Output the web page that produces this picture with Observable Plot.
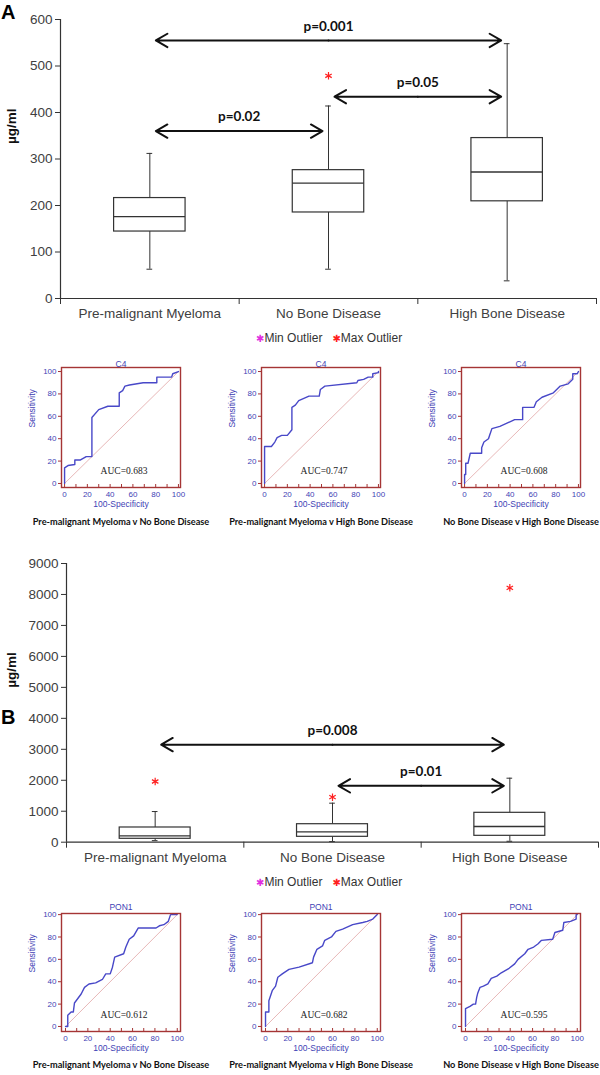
<!DOCTYPE html>
<html><head><meta charset="utf-8">
<script src="https://cdn.jsdelivr.net/npm/d3@7"></script>
<script src="https://cdn.jsdelivr.net/npm/@observablehq/plot@0.6"></script>
<style>
body{margin:0;background:#fff;}
#root{position:relative;width:600px;height:1075px;overflow:hidden;background:#fff;font-family:"Liberation Sans",Arial,sans-serif;}
.panel-label{font-weight:bold;font-size:20px;line-height:1;color:#000;}
.legend{font-size:12px;line-height:16px;color:#333;white-space:nowrap;}
.legend .sym{font-family:"DejaVu Sans",sans-serif;font-size:10px;}
</style></head>
<body><div id="root"></div>
<script>
// ---------- data ----------
const categories = ["Pre-malignant Myeloma", "No Bone Disease", "High Bone Disease"];

// Panel A: C4 (µg/ml)
const c4Low = [63, 63, 38];
const c4Q1 = [144, 185, 209];
const c4Median = [176, 248, 272];
const c4Q3 = [216, 276, 345];
const c4High = [312, 414, 548];
const c4Outliers = [{group: 1, value: 479}];
const c4Tests = [
  {from: 0, to: 2, y: 555, label: "p=0.001"},
  {from: 1, to: 2, y: 434, label: "p=0.05"},
  {from: 0, to: 1, y: 360, label: "p=0.02"}
];
const c4Ticks = [0, 100, 200, 300, 400, 500, 600];

// Panel B: PON1 (µg/ml)
const pon1Low = [50, 20, 30];
const pon1Q1 = [110, 174, 206];
const pon1Median = [206, 336, 507];
const pon1Q3 = [475, 581, 949];
const pon1High = [990, 1260, 2067];
const pon1Outliers = [{group: 0, value: 1960}, {group: 1, value: 1453}, {group: 2, value: 8214}];
const pon1Tests = [
  {from: 0, to: 2, y: 3150, label: "p=0.008"},
  {from: 1, to: 2, y: 1820, label: "p=0.01"}
];
const pon1Ticks = [0, 1000, 2000, 3000, 4000, 5000, 6000, 7000, 8000, 9000];

// ROC curves [100-Specificity, Sensitivity]
const rocC4PreVsNone = [[0,0],[0,14],[3,16],[9,17],[9,21],[14,21],[19,24],[24,24],[24,59],[30,66],[38,69],[48,69],[48,81],[51,83],[53,87],[57,88],[69,90],[81,90],[81,95],[94,95],[95,98],[100,100]];
const rocC4PreVsHigh = [[0,0],[0,33],[6,33],[9,37],[11,41],[15,43],[20,43],[24,48],[24,68],[27,70],[30,74],[39,78],[48,78],[49,84],[53,87],[81,90],[82,92],[87,93],[91,95],[95,95],[95,98],[100,99],[100,100]];
const rocC4NoneVsHigh = [[0,0],[0,8],[1,8],[1,18],[3,18],[5,27],[15,27],[15,32],[17,37],[21,40],[22,43],[24,49],[31,51],[44,57],[51,57],[51,68],[61,68],[63,73],[68,77],[78,81],[84,87],[91,89],[95,93],[95,98],[99,98],[100,100]];
const rocPon1PreVsNone = [[0,0],[2,0],[2,10],[5,13],[7,13],[8,21],[11,25],[14,29],[17,35],[21,38],[27,39],[33,42],[36,47],[40,47],[42,53],[44,62],[52,65],[54,71],[57,78],[61,81],[65,88],[81,88],[84,90],[88,91],[92,94],[94,100],[100,100]];
const rocPon1PreVsHigh = [[0,0],[0,13],[3,13],[3,23],[6,32],[9,36],[11,44],[15,47],[21,51],[30,53],[42,57],[43,62],[46,69],[51,72],[53,77],[59,80],[63,85],[69,87],[78,91],[87,93],[91,94],[96,96],[100,100]];
const rocPon1NoneVsHigh = [[0,0],[0,16],[4,18],[7,20],[9,20],[10,26],[11,30],[13,35],[16,36],[20,38],[23,43],[28,45],[32,48],[39,52],[44,56],[47,60],[53,65],[56,69],[61,71],[65,74],[68,77],[78,78],[80,84],[87,86],[88,93],[94,94],[99,96],[99,100],[100,100]];
const rocTitlesA = ["C4", "C4", "C4"];
const rocTitlesB = ["PON1", "PON1", "PON1"];
const aucA = ["AUC=0.683", "AUC=0.747", "AUC=0.608"];
const aucB = ["AUC=0.612", "AUC=0.682", "AUC=0.595"];
const comparisons = ["Pre-malignant Myeloma v No Bone Disease", "Pre-malignant Myeloma v High Bone Disease", "No Bone Disease v High Bone Disease"];
const rocTicks = [0, 20, 40, 60, 80, 100];
const rocMinorTicks = [0, 10, 20, 30, 40, 50, 60, 70, 80, 90, 100];
const chance = [[0, 0], [100, 100]];
const legendItems = [{label: "Min Outlier", color: "#e030e0"}, {label: "Max Outlier", color: "#ff2020"}];

// ---------- drawing ----------
const root = document.getElementById("root");
function place(el, left, top) {
  el.style.position = "absolute";
  el.style.left = left + "px";
  el.style.top = top + "px";
  root.appendChild(el);
}
function div(cls, html, left, top) {
  const d = document.createElement("div");
  d.className = cls;
  d.innerHTML = html;
  place(d, left, top);
}

function boxPlot(o) {
  const rows = categories.map((name, i) => ({name, c: i + 0.5, low: o.low[i], q1: o.q1[i], median: o.median[i], q3: o.q3[i], high: o.high[i]}));
  const ink = "#333", text = "#404040";
  const half = 0.2, cap = 0.016;
  const mid = d => (d.from + d.to) / 2 + 0.5;
  return Plot.plot({
    width: 600, height: o.height,
    marginLeft: o.marginLeft, marginRight: o.marginRight, marginTop: o.marginTop, marginBottom: o.marginBottom,
    style: {fontFamily: "Liberation Sans, Arial, sans-serif", background: "transparent", overflow: "visible"},
    x: {domain: [0, 3]},
    y: {domain: [0, o.ticks[o.ticks.length - 1]]},
    marks: [
      Plot.ruleX([0], {stroke: ink, strokeWidth: 1.2}),
      Plot.ruleY([0], {stroke: ink, strokeWidth: 1.2}),
      Plot.axisY({ticks: o.ticks, tickSize: 5, tickPadding: 3, tickFormat: d => String(d), fontSize: 13.5, fill: text, stroke: ink, label: null}),
      Plot.axisX({ticks: [0, 1, 2, 3], tickSize: 6, tickFormat: () => "", stroke: ink, label: null}),
      Plot.axisX({ticks: rows.map(d => d.c), tickSize: 0, tickPadding: 10, tickFormat: v => categories[Math.floor(v)], fontSize: 13.5, fill: text, label: null}),
      Plot.ruleX(rows, {x: "c", y1: "q3", y2: "high", stroke: ink}),
      Plot.ruleX(rows, {x: "c", y1: "low", y2: "q1", stroke: ink}),
      Plot.ruleY(rows, {y: "high", x1: d => d.c - cap, x2: d => d.c + cap, stroke: ink}),
      Plot.ruleY(rows, {y: "low", x1: d => d.c - cap, x2: d => d.c + cap, stroke: ink}),
      Plot.rect(rows, {x1: d => d.c - half, x2: d => d.c + half, y1: "q1", y2: "q3", fill: "white", stroke: ink, strokeWidth: 1.2}),
      Plot.ruleY(rows, {y: "median", x1: d => d.c - half, x2: d => d.c + half, stroke: ink, strokeWidth: 1.3}),
      Plot.dot(o.outliers, {x: d => d.group + 0.5, y: "value", symbol: "asterisk", stroke: "#ff2020", r: 3.5, strokeWidth: 1.2}),
      Plot.arrow(o.tests, {x1: mid, y1: "y", x2: d => d.from + 0.5, y2: "y", insetEnd: 6, headLength: 10, strokeWidth: 2, stroke: "#111"}),
      Plot.arrow(o.tests, {x1: mid, y1: "y", x2: d => d.to + 0.5, y2: "y", insetEnd: 6, headLength: 10, strokeWidth: 2, stroke: "#111"}),
      Plot.text(o.tests, {x: mid, y: "y", text: "label", dy: -14, fontWeight: "bold", fontSize: 13.5, fontFamily: "Lato, sans-serif", fill: "#111"}),
      Plot.text(["µg/ml"], {frameAnchor: "left", rotate: -90, dx: 11.5 - o.marginLeft, dy: -15, fontWeight: "bold", fontSize: 13.5, fill: "#111"})
    ]
  });
}

function rocPlot(curve, title, auc, comparison, row) {
  const blue = "#3f3fb5", red = "#a53535";
  return Plot.plot({
    width: 200, height: 180,
    marginLeft: 61, marginRight: 20, marginTop: 17, marginBottom: row.marginBottom,
    style: {fontFamily: "Liberation Sans, Arial, sans-serif", background: "transparent", overflow: "visible"},
    x: {domain: row.xDomain},
    y: {domain: row.yDomain},
    marks: [
      Plot.line(chance, {stroke: "#e8b8b8", strokeWidth: 1}),
      Plot.line(curve, {stroke: "#4848c8", strokeWidth: 1.4}),
      Plot.frame({stroke: red, strokeWidth: 1.4}),
      Plot.axisX({ticks: rocMinorTicks, tickSize: 3, dy: -3, tickFormat: () => "", stroke: red, label: null}),
      Plot.axisX({ticks: rocTicks, tickSize: 0, tickPadding: 4, fontSize: 8, fill: blue, label: null}),
      Plot.axisY({ticks: rocTicks, tickSize: 3, tickPadding: 2, fontSize: 8, fill: blue, stroke: red, label: null}),
      Plot.text([title], {frameAnchor: "top", dy: row.titleDy, fill: blue, fontSize: 8.5}),
      Plot.text(["100-Specificity"], {frameAnchor: "bottom", dy: 19, fill: blue, fontSize: 8.5}),
      Plot.text(["Sensitivity"], {frameAnchor: "left", rotate: -90, dx: -29, fill: blue, fontSize: 8.5}),
      Plot.text([auc], {frameAnchor: "bottom", dx: 3, dy: -14, fontFamily: "Liberation Serif, serif", fontSize: 9.5, fill: "#222"}),
      Plot.text([comparison], {frameAnchor: "bottom", dy: row.subDy, fontFamily: "Lato, sans-serif", fontWeight: "bold", fontSize: 9.2, fill: "#111"})
    ]
  });
}

function legend(top) {
  const html = legendItems.map(d => `<span class="sym" style="color:${d.color}">✱</span>${d.label}`).join("&nbsp;&nbsp;&nbsp;");
  div("legend", html, 256, top);
}

// Panel A
div("panel-label", "A", 1, 2);
place(boxPlot({low: c4Low, q1: c4Q1, median: c4Median, q3: c4Q3, high: c4High, outliers: c4Outliers, tests: c4Tests, ticks: c4Ticks,
  height: 330, marginLeft: 60, marginRight: 4, marginTop: 19, marginBottom: 32}), 0, 0);
legend(330);
const rowA = {marginBottom: 43, xDomain: [-2.7, 101.8], yDomain: [-3.6, 103.6], titleDy: -7, subDy: 37};
[rocC4PreVsNone, rocC4PreVsHigh, rocC4NoneVsHigh].forEach((c, i) => place(rocPlot(c, rocTitlesA[i], aucA[i], comparisons[i], rowA), i * 200, 350));

// Panel B
div("panel-label", "B", 1, 707);
place(boxPlot({low: pon1Low, q1: pon1Q1, median: pon1Median, q3: pon1Q3, high: pon1High, outliers: pon1Outliers, tests: pon1Tests, ticks: pon1Ticks,
  height: 330, marginLeft: 66, marginRight: 2, marginTop: 18, marginBottom: 33.3}), 0, 545);
legend(874);
const rowB = {marginBottom: 45, xDomain: [-3.6, 102.9], yDomain: [-4.5, 101], titleDy: -10, subDy: 36};
[rocPon1PreVsNone, rocPon1PreVsHigh, rocPon1NoneVsHigh].forEach((c, i) => place(rocPlot(c, rocTitlesB[i], aucB[i], comparisons[i], rowB), i * 200, 896));
</script></body></html>
